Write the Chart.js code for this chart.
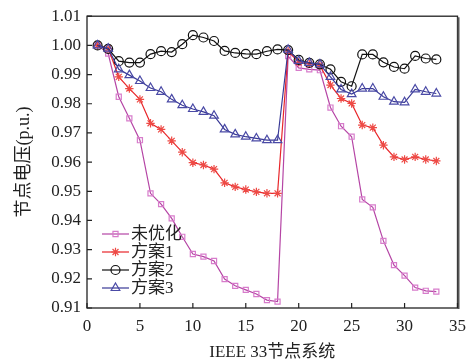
<!DOCTYPE html>
<html>
<head>
<meta charset="utf-8">
<script src="https://cdn.jsdelivr.net/npm/chart.js@4"></script>
<style>
  html, body { margin: 0; padding: 0; background: #fff; }
  #wrap { width: 474px; height: 363px; }
</style>
</head>
<body>
<div id="wrap"><canvas id="volt_chart" width="474" height="363"></canvas></div>
<script>
const nodes = [1,2,3,4,5,6,7,8,9,10,11,12,13,14,15,16,17,18,19,20,21,22,23,24,25,26,27,28,29,30,31,32,33];

const noOpt = [1.000,0.9972,0.9824,0.9750,0.9675,0.9493,0.9456,0.9407,0.9344,0.9285,0.9276,0.9261,0.9199,0.9176,0.9162,0.9148,0.9127,0.9122,
  0.9963,0.9923,0.9918,0.9915,0.9787,0.9723,0.9687,0.9472,0.9445,0.9330,0.9247,0.9211,0.9170,0.9159,0.9156];
const plan1 = [1.000,0.9990,0.9892,0.9852,0.9815,0.9733,0.9712,0.9673,0.9634,0.9598,0.9590,0.9576,0.9529,0.9515,0.9506,0.9498,0.9493,0.9493,
  0.9980,0.9942,0.9937,0.9932,0.9864,0.9818,0.9801,0.9727,0.9718,0.9658,0.9618,0.9609,0.9618,0.9609,0.9604];
const plan2 = [1.000,0.9988,0.9946,0.9941,0.9941,0.9970,0.9980,0.9977,1.0004,1.0035,1.0027,1.0015,0.9981,0.9974,0.9971,0.9970,0.9980,0.9986,
  0.9984,0.9950,0.9940,0.9935,0.9918,0.9875,0.9860,0.9969,0.9969,0.9942,0.9926,0.9920,0.9964,0.9955,0.9952];
const plan3 = [1.000,0.9989,0.9918,0.9898,0.9878,0.9854,0.9841,0.9815,0.9795,0.9782,0.9772,0.9759,0.9712,0.9695,0.9687,0.9681,0.9675,0.9675,
  0.9985,0.9947,0.9940,0.9935,0.9892,0.9849,0.9833,0.9852,0.9852,0.9824,0.9807,0.9805,0.9849,0.9841,0.9835];

const seriesNames = ['未优化', '方案1', '方案2', '方案3'];
const xTicks = [0, 5, 10, 15, 20, 25, 30, 35];
const yTicks = [0.91, 0.92, 0.93, 0.94, 0.95, 0.96, 0.97, 0.98, 0.99, 1.00, 1.01];

const serif = '"Liberation Serif", "Times New Roman", "Noto Sans CJK SC", serif';

function pts(vals) {
  return nodes.map((n, i) => ({ x: n, y: vals[i] }));
}

const styles = [
  { line: '#b545a5', point: '#d77ccb', style: 'rect', r: 3.6 },
  { line: '#e8262a', point: '#ee4a45', style: 'star', r: 4.2 },
  { line: '#111111', point: '#111111', style: 'circle', r: 4.5 },
  { line: '#3a3a96', point: '#4a4aa6', style: 'triangle', r: 5 }
];
const allVals = [noOpt, plan1, plan2, plan3];

const datasets = allVals.map((v, i) => ({
  label: seriesNames[i],
  data: pts(v),
  borderColor: styles[i].line,
  borderWidth: 1.2,
  pointStyle: styles[i].style,
  pointRadius: styles[i].r,
  pointBorderColor: styles[i].point,
  pointBackgroundColor: 'rgba(0,0,0,0)',
  pointBorderWidth: 1.2,
  tension: 0,
  order: 3 - i
}));

// box, inward tick marks and in-plot legend
const framePlugin = {
  id: 'frame',
  afterDraw(chart) {
    const ctx = chart.ctx;
    const a = chart.chartArea;
    const xs = chart.scales.x, ys = chart.scales.y;
    ctx.save();
    ctx.strokeStyle = '#222';
    ctx.lineWidth = 1.3;
    ctx.strokeRect(a.left, a.top, a.right - a.left, a.bottom - a.top);
    ctx.lineWidth = 2;
    ctx.strokeStyle = '#555';
    ctx.beginPath();
    ctx.moveTo(a.right + 1, a.top + 1);
    ctx.lineTo(a.right + 1, a.bottom + 1);
    ctx.stroke();
    ctx.lineWidth = 1.2;
    ctx.strokeStyle = '#222';
    ctx.beginPath();
    xTicks.forEach(t => {
      const px = xs.getPixelForValue(t);
      ctx.moveTo(px, a.bottom);
      ctx.lineTo(px, a.bottom - 5);
    });
    yTicks.forEach(t => {
      const py = ys.getPixelForValue(t);
      ctx.moveTo(a.left, py);
      ctx.lineTo(a.left + 5, py);
    });
    ctx.stroke();

    // legend
    const x0 = a.left + 15, x1 = a.left + 42, tx = a.left + 44;
    const rowY = [234, 252, 270, 288];
    ctx.font = '17px ' + serif;
    ctx.textBaseline = 'middle';
    chart.data.datasets.forEach((ds, i) => {
      const y = rowY[i];
      ctx.strokeStyle = ds.borderColor;
      ctx.lineWidth = 1.2;
      ctx.beginPath();
      ctx.moveTo(x0, y);
      ctx.lineTo(x1, y);
      ctx.stroke();
      ctx.strokeStyle = ds.pointBorderColor;
      ctx.fillStyle = 'rgba(0,0,0,0)';
      Chart.helpers.drawPoint(ctx, {
        pointStyle: ds.pointStyle,
        radius: ds.pointRadius,
        borderWidth: 1.2,
        rotation: 0
      }, (x0 + x1) / 2, y);
      ctx.fillStyle = '#222';
      ctx.fillText(ds.label, tx, y + 1);
    });
    ctx.restore();
  }
};

const volt_ctx = document.getElementById('volt_chart').getContext('2d');

new Chart(volt_ctx, {
  type: 'line',
  data: { datasets: datasets },
  plugins: [framePlugin],
  options: {
    responsive: false,
    animation: false,
    layout: { padding: { top: 16, right: 14, left: 0, bottom: 0 } },
    plugins: {
      legend: { display: false },
      tooltip: { enabled: false }
    },
    scales: {
      x: {
        type: 'linear',
        min: 0,
        max: 35,
        afterBuildTicks: s => { s.ticks = xTicks.map(v => ({ value: v })); },
        afterFit: s => { s.height = 55; },
        grid: { display: false, drawTicks: false },
        border: { display: false },
        ticks: {
          color: '#222',
          padding: 8,
          maxRotation: 0,
          font: { family: serif, size: 17 },
          callback: v => String(v)
        },
        title: {
          display: true,
          text: 'IEEE 33节点系统',
          color: '#222',
          padding: { top: 1, bottom: 0 },
          font: { family: serif, size: 17 }
        }
      },
      y: {
        type: 'linear',
        min: 0.91,
        max: 1.01,
        afterBuildTicks: s => { s.ticks = yTicks.map(v => ({ value: v })); },
        afterFit: s => { s.width = 87; },
        grid: { display: false, drawTicks: false },
        border: { display: false },
        ticks: {
          color: '#222',
          padding: 6,
          font: { family: serif, size: 17 },
          callback: v => v.toFixed(2)
        },
        title: {
          display: true,
          text: '节点电压(p.u.)',
          color: '#222',
          padding: { top: 13, bottom: 0 },
          font: { family: serif, size: 18 }
        }
      }
    }
  }
});
</script>
</body>
</html>
